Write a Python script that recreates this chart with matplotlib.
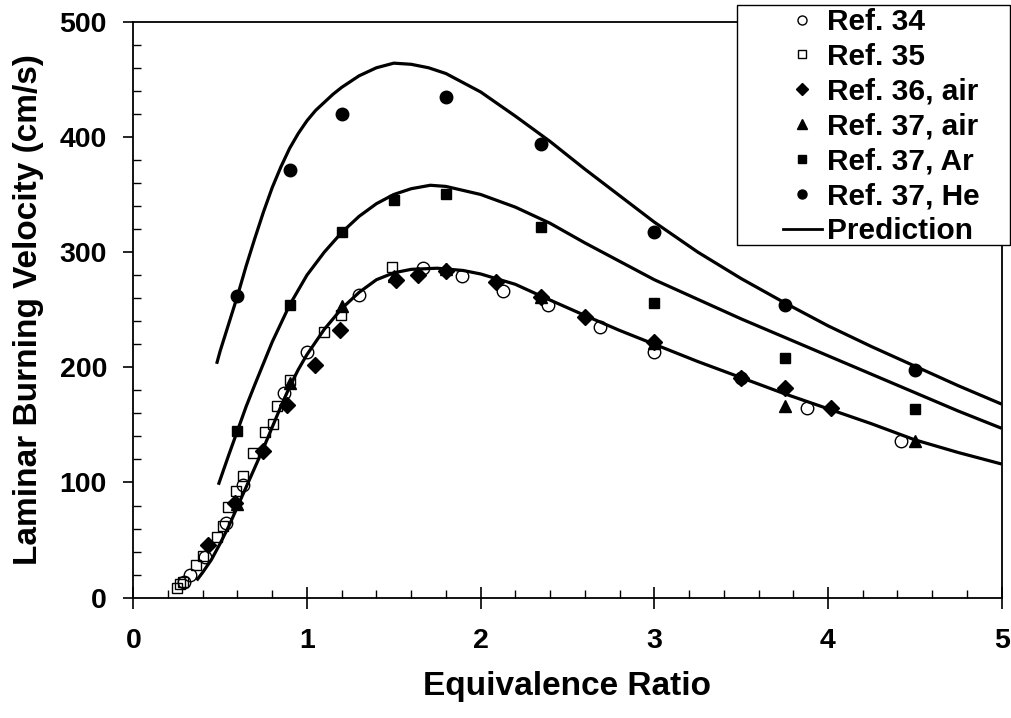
import matplotlib
matplotlib.use("Agg")
import matplotlib.pyplot as plt
from matplotlib.lines import Line2D
from matplotlib.patches import Rectangle
from matplotlib.ticker import MultipleLocator

plt.rcParams['font.family'] = ['Liberation Sans', 'DejaVu Sans']
plt.rcParams['font.weight'] = 'bold'

# --- measured burning velocities (cm/s) vs. equivalence ratio ---
ref34_phi = [0.29, 0.326, 0.413, 0.534, 0.63, 0.869, 1.0, 1.30, 1.67, 1.89,
             2.13, 2.39, 2.69, 3.0, 3.50, 3.88, 4.42]
ref34_v = [14, 20, 35, 65, 98, 178, 213, 263, 286, 279,
           266, 254, 235, 213, 191, 165, 136]

ref35_phi = [0.25, 0.269, 0.288, 0.361, 0.40, 0.48, 0.518, 0.547, 0.591, 0.63,
             0.691, 0.758, 0.806, 0.829, 0.902, 1.098, 1.194, 1.488]
ref35_v = [8, 12, 14, 28, 36, 53, 62, 79, 93, 106,
           126, 144, 151, 166, 189, 231, 245, 287]

ref36_phi = [0.432, 0.585, 0.745, 0.883, 1.046, 1.19, 1.512, 1.64, 1.80, 2.09,
             2.35, 2.60, 3.0, 3.5, 3.75, 4.02]
ref36_v = [46, 82, 127, 167, 202, 232, 276, 280, 284, 274,
           261, 244, 222, 191, 182, 165]

ref37air_phi = [0.595, 0.90, 1.20, 1.50, 1.80, 2.35, 3.0, 3.75, 4.5]
ref37air_v = [81, 186, 253, 279, 285, 261, 221, 166, 136]

ref37ar_phi = [0.60, 0.90, 1.20, 1.50, 1.80, 2.35, 3.0, 3.75, 4.5]
ref37ar_v = [145, 254, 317, 345, 350, 322, 256, 208, 164]

ref37he_phi = [0.60, 0.90, 1.20, 1.80, 2.35, 3.0, 3.75, 4.5]
ref37he_v = [262, 371, 420, 435, 394, 317, 254, 198]

# --- predicted curves ---
pred_air_phi = [0.365, 0.4, 0.45, 0.5, 0.55, 0.6, 0.65, 0.7, 0.75, 0.8, 0.85,
                0.9, 0.95, 1.0, 1.1, 1.2, 1.3, 1.4, 1.5, 1.6, 1.75, 1.9, 2.0,
                2.2, 2.36, 2.6, 2.8, 3.0, 3.25, 3.5, 3.75, 4.0, 4.25, 4.5,
                4.75, 5.0]
pred_air_v = [15, 22, 33, 47, 62, 79, 96, 113, 130, 148, 166,
              183, 198, 211, 233, 251, 265, 276, 282, 285, 286, 284, 281,
              272, 261, 245, 232, 220, 205, 191, 177, 164, 151, 137,
              126, 116]

pred_ar_phi = [0.49, 0.55, 0.6, 0.65, 0.7, 0.8, 0.9, 1.0, 1.1, 1.2, 1.3, 1.4,
               1.5, 1.6, 1.71, 1.8, 2.0, 2.2, 2.4, 2.6, 2.8, 3.0, 3.25, 3.5,
               3.75, 4.0, 4.25, 4.5, 4.75, 5.0]
pred_ar_v = [98, 124, 145, 166, 185, 222, 254, 280, 300, 317, 331, 342,
             350, 355, 358, 357, 350, 339, 325, 308, 292, 276, 259, 242,
             226, 210, 194, 178, 162, 147]

pred_he_phi = [0.48, 0.5, 0.55, 0.6, 0.65, 0.7, 0.75, 0.8, 0.85, 0.9, 0.95,
               1.0, 1.05, 1.1, 1.15, 1.2, 1.3, 1.4, 1.5, 1.6, 1.7, 1.8, 2.0,
               2.2, 2.4, 2.6, 2.8, 3.0, 3.25, 3.5, 3.75, 4.0, 4.25, 4.5,
               4.75, 5.0]
pred_he_v = [203, 214, 238, 262, 288, 312, 335, 356, 374, 390, 403,
             414, 423, 430, 437, 443, 453, 460, 464, 463, 460, 455, 439,
             418, 396, 372, 349, 326, 300, 277, 256, 236, 218, 201,
             184, 168]

x_ticks = [0, 1, 2, 3, 4, 5]
y_ticks = [0, 100, 200, 300, 400, 500]

fig = plt.figure(figsize=(10.12, 7.18), dpi=100)
ax = fig.add_axes([0.1317, 0.1676, 0.8581, 0.8022])

open_kw = dict(linestyle='none', markerfacecolor='none', markeredgecolor='black',
               markeredgewidth=1.0, clip_on=False)
fill_kw = dict(linestyle='none', color='black', clip_on=False)

ax.plot(ref34_phi, ref34_v, marker='o', markersize=9, **open_kw)
ax.plot(ref35_phi, ref35_v, marker='s', markersize=7.5, **open_kw)
ax.plot(ref36_phi, ref36_v, marker='D', markersize=8, **fill_kw)
ax.plot(ref37air_phi, ref37air_v, marker='^', markersize=9, **fill_kw)
ax.plot(ref37ar_phi, ref37ar_v, marker='s', markersize=7.5, **fill_kw)
ax.plot(ref37he_phi, ref37he_v, marker='o', markersize=9, **fill_kw)

for px, pv in [(pred_air_phi, pred_air_v), (pred_ar_phi, pred_ar_v),
               (pred_he_phi, pred_he_v)]:
    ax.plot(px, pv, color='black', linewidth=2.3, solid_joinstyle='round',
            solid_capstyle='butt')

ax.set_xlim(0, 5)
ax.set_ylim(0, 500)
ax.set_xticks(x_ticks)
ax.set_yticks(y_ticks)
ax.xaxis.set_minor_locator(MultipleLocator(0.2))
ax.yaxis.set_minor_locator(MultipleLocator(20))
ax.tick_params(axis='x', which='major', direction='inout', length=16, width=1.2,
               labelsize=20.5, pad=14)
ax.tick_params(axis='x', which='minor', direction='in', length=6, width=1.0)
ax.tick_params(axis='y', which='major', direction='out', length=7, width=1.2,
               labelsize=20.5, pad=12)
ax.tick_params(axis='y', which='minor', direction='in', length=6, width=1.0)
for lab in ax.get_xticklabels() + ax.get_yticklabels():
    lab.set_fontweight('bold')
for sp in ax.spines.values():
    sp.set_linewidth(1.3)

ax.set_xlabel('Equivalence Ratio', fontsize=24, fontweight='bold', labelpad=12)
ax.set_ylabel('Laminar Burning Velocity (cm/s)', fontsize=24, fontweight='bold',
              labelpad=11)

# legend box sits over the upper-right corner of the plot frame
frame = Rectangle((0.7283, 0.6588), 0.2698, 0.3343, transform=fig.transFigure,
                  facecolor='white', edgecolor='black', linewidth=1.0, zorder=3)
fig.add_artist(frame)

handles = [
    Line2D([], [], marker='o', markersize=6.5, **open_kw),
    Line2D([], [], marker='s', markersize=5.5, **open_kw),
    Line2D([], [], marker='D', markersize=6, **fill_kw),
    Line2D([], [], marker='^', markersize=6.5, **fill_kw),
    Line2D([], [], marker='s', markersize=6, **fill_kw),
    Line2D([], [], marker='o', markersize=6.5, **fill_kw),
    Line2D([], [], color='black', linewidth=2.0),
]
labels = ['Ref. 34', 'Ref. 35', 'Ref. 36, air', 'Ref. 37, air',
          'Ref. 37, Ar', 'Ref. 37, He', 'Prediction']
leg = fig.legend(handles, labels, loc='upper left',
                 bbox_to_anchor=(783 / 1012, 1 - 8 / 718),
                 prop={'weight': 'bold', 'size': 21.5},
                 frameon=False, borderpad=0, labelspacing=0.23,
                 handlelength=1.3, handletextpad=0.17, borderaxespad=0)
leg.set_zorder(5)

fig.savefig('out.png', dpi=100)
